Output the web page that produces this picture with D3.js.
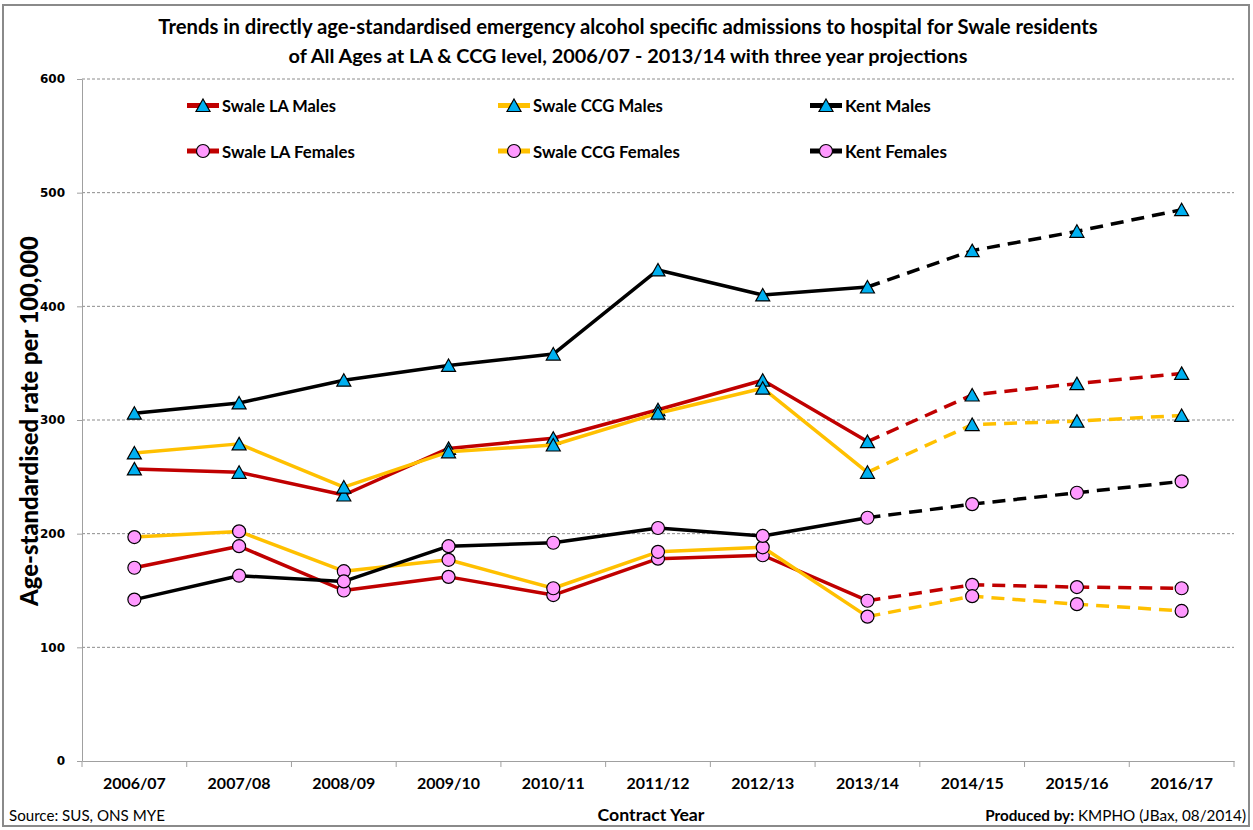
<!DOCTYPE html>
<html>
<head>
<meta charset="utf-8">
<script src="https://cdn.jsdelivr.net/npm/d3@7"></script>
<style>
  html, body { margin: 0; padding: 0; background: #fff; }
  svg { display: block; }
  text { font-family: Lato, "Liberation Sans", sans-serif; fill: #000; }
</style>
</head>
<body>
<svg id="chart" width="1253" height="830"></svg>
<script>
// ---------------- DATA ----------------
const categories = ["2006/07","2007/08","2008/09","2009/10","2010/11","2011/12","2012/13","2013/14","2014/15","2015/16","2016/17"];
const projectionStart = "2013/14";

const seriesNames = ["Swale LA Males","Swale CCG Males","Kent Males","Swale LA Females","Swale CCG Females","Kent Females"];
const swaleLAMales     = [257, 254, 234, 275, 284, 309, 335, 281, 322, 332, 341];
const swaleCCGMales    = [271, 279, 241, 272, 278, 306, 328, 254, 296, 299, 304];
const kentMales        = [306, 315, 335, 348, 358, 432, 410, 417, 449, 466, 485];
const swaleLAFemales   = [170, 189, 150, 162, 146, 178, 181, 141, 155, 153, 152];
const swaleCCGFemales  = [197, 202, 167, 177, 152, 184, 188, 127, 145, 138, 132];
const kentFemales      = [142, 163, 158, 189, 192, 205, 198, 214, 226, 236, 246];
const seriesValues = [swaleLAMales, swaleCCGMales, kentMales, swaleLAFemales, swaleCCGFemales, kentFemales];
const seriesColors = ["#C00000", "#FFC000", "#000000", "#C00000", "#FFC000", "#000000"];
const seriesMarkers = ["triangle","triangle","triangle","circle","circle","circle"];

const yTicks = [0, 100, 200, 300, 400, 500, 600];
const titleLines = [
  "Trends in directly age-standardised emergency alcohol specific admissions to hospital for Swale residents",
  "of All Ages at LA & CCG level, 2006/07 - 2013/14 with three year projections"
];
const yTitle = "Age-standardised rate per 100,000";
const xTitle = "Contract Year";
const sourceText = "Source: SUS, ONS MYE";
const producedBold = "Produced by:";
const producedText = " KMPHO (JBax, 08/2014)";

// ---------------- LAYOUT ----------------
const svg = d3.select("#chart");
const plot = {left: 82, right: 1234, top: 79, bottom: 761};
const x = d3.scaleBand().domain(categories).range([plot.left, plot.right]);
const y = d3.scaleLinear().domain([0, 600]).range([plot.bottom, plot.top]);
const cx = c => x(c) + x.bandwidth() / 2;

function fit(sel, w) {
  const n = sel.node();
  const cur = n.getComputedTextLength();
  const fs = parseFloat(sel.style("font-size"));
  sel.style("font-size", (fs * w / cur) + "px");
  return sel;
}

// outer frame
svg.append("rect").attr("x", 3).attr("y", 5).attr("width", 1246).attr("height", 821)
  .attr("fill", "none").attr("stroke", "#8a8a8a").attr("stroke-width", 2);

// gridlines
svg.append("g").selectAll("line").data(yTicks.filter(d => d > 0)).join("line")
  .attr("x1", plot.left).attr("x2", plot.right)
  .attr("y1", d => y(d)).attr("y2", d => y(d))
  .attr("stroke", "#8c8c8c").attr("stroke-width", 1).attr("stroke-dasharray", "3,2");

// y axis
const yAxis = svg.append("g").attr("transform", `translate(${plot.left},0)`)
  .call(d3.axisLeft(y).tickValues(yTicks).tickSize(5).tickPadding(12).tickSizeOuter(0));
yAxis.select(".domain").attr("stroke", "#a0a0a0");
yAxis.selectAll(".tick line").attr("stroke", "#a0a0a0");
yAxis.selectAll(".tick text").style("font-family", "'DejaVu Sans', Verdana, sans-serif")
  .style("font-weight", "bold").style("font-size", "12px").attr("fill", "#000");

// x axis
const xAxis = svg.append("g").attr("transform", `translate(0,${plot.bottom})`)
  .call(d3.axisBottom(x).tickSize(0).tickPadding(28).tickSizeOuter(0));
xAxis.select(".domain").attr("stroke", "#a0a0a0");
xAxis.selectAll(".tick text").style("font-family", "Lato, 'Liberation Sans', sans-serif")
  .style("font-weight", "bold").style("font-size", "17px").attr("fill", "#000")
  .attr("dy", "0");
xAxis.selectAll(".tick text").each(function() { fit(d3.select(this), 63); });
// category boundary ticks
xAxis.append("g").selectAll("line").data(categories.map(c => x(c)).concat([x(categories[categories.length-1]) + x.bandwidth()]))
  .join("line").attr("x1", d => d).attr("x2", d => d).attr("y1", 0).attr("y2", 6)
  .attr("stroke", "#a0a0a0");

// titles
titleLines.forEach((t, i) => {
  const s = svg.append("text").attr("x", 628).attr("y", 34 + i * 29).attr("text-anchor", "middle")
    .style("font-weight", "bold").style("font-size", "18px").text(t);
  fit(s, i === 0 ? 940 : 679);
});

const yt = svg.append("text").attr("transform", "translate(38,421) rotate(-90)").attr("text-anchor", "middle")
  .style("font-weight", "900").style("font-size", "22px").text(yTitle);
fit(yt, 370);

const xt = svg.append("text").attr("x", 651).attr("y", 821).attr("text-anchor", "middle")
  .style("font-weight", "bold").style("font-size", "17px").text(xTitle);
fit(xt, 107);

const src = svg.append("text").attr("x", 9).attr("y", 821).style("font-size", "15px").text(sourceText);
fit(src, 156);

const prod = svg.append("text").attr("x", 1246).attr("y", 821).attr("text-anchor", "end").style("font-size", "15px");
prod.append("tspan").style("font-weight", "bold").text(producedBold);
prod.append("tspan").text(producedText);
fit(prod, 261);

// ---------------- SERIES ----------------
const triPath = "M0,-6.5L7,6L-7,6Z";
const projIdx = categories.indexOf(projectionStart);
const line = d3.line().x(d => cx(d.c)).y(d => y(d.v));

function drawMarker(g, type, px, py) {
  if (type === "triangle") {
    g.append("path").attr("d", triPath).attr("transform", `translate(${px},${py})`)
      .attr("fill", "#00B0F0").attr("stroke", "#000").attr("stroke-width", 1.2);
  } else {
    g.append("circle").attr("cx", px).attr("cy", py).attr("r", 6.5)
      .attr("fill", "#FF99FF").attr("stroke", "#000").attr("stroke-width", 1.2);
  }
}

const seriesG = svg.append("g");
seriesValues.forEach((vals, si) => {
  const pts = vals.map((v, i) => ({c: categories[i], v}));
  const g = seriesG.append("g");
  g.append("path").datum(pts.slice(0, projIdx + 1)).attr("d", line)
    .attr("fill", "none").attr("stroke", seriesColors[si]).attr("stroke-width", 3.5)
    .attr("stroke-linejoin", "round");
  g.append("path").datum(pts.slice(projIdx)).attr("d", line)
    .attr("fill", "none").attr("stroke", seriesColors[si]).attr("stroke-width", 3.5)
    .attr("stroke-dasharray", "13,8");
  pts.forEach(p => drawMarker(g, seriesMarkers[si], cx(p.c), y(p.v)));
});

// ---------------- LEGEND ----------------
const legendCols = [187, 498, 810];
const legendRows = [105.5, 151];
const legendWidths = [114, 130, 86, 133, 147, 102];
seriesNames.forEach((name, si) => {
  const col = si % 3, row = Math.floor(si / 3);
  const lx = legendCols[col], ly = legendRows[row];
  const g = svg.append("g");
  g.append("line").attr("x1", lx).attr("x2", lx + 32).attr("y1", ly).attr("y2", ly)
    .attr("stroke", seriesColors[si]).attr("stroke-width", 5);
  drawMarker(g, seriesMarkers[si], lx + 16, ly);
  const t = g.append("text").attr("x", lx + 35).attr("y", ly + 6.5)
    .style("font-weight", "bold").style("font-size", "18px").text(name);
  fit(t, legendWidths[si]);
});
</script>
</body>
</html>
